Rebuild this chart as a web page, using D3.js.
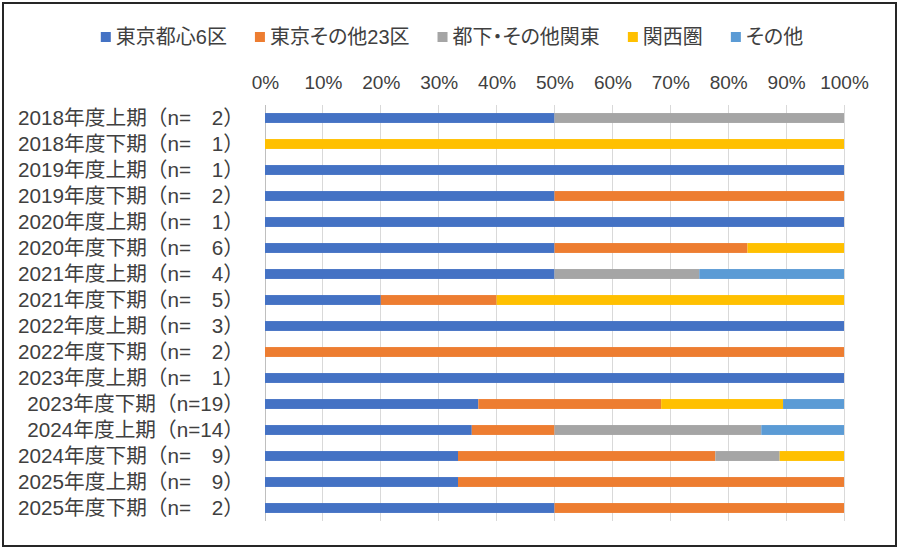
<!DOCTYPE html>
<html>
<head>
<meta charset="utf-8">
<script src="https://cdn.jsdelivr.net/npm/d3@7"></script>
<style>
  body { margin: 0; background: #fff; }
  text { font-family: "Liberation Sans", "Noto Sans CJK JP", sans-serif; fill: #404040; }
  .legend text { font-feature-settings: "palt"; }
</style>
</head>
<body>
<div id="chart"></div>
<script>
// data (counts per area)
const periods = [
  "2018年度上期", "2018年度下期", "2019年度上期", "2019年度下期",
  "2020年度上期", "2020年度下期", "2021年度上期", "2021年度下期",
  "2022年度上期", "2022年度下期", "2023年度上期", "2023年度下期",
  "2024年度上期", "2024年度下期", "2025年度上期", "2025年度下期"
];
const nCounts = [2, 1, 1, 2, 1, 6, 4, 5, 3, 2, 1, 19, 14, 9, 9, 2];

const seriesNames = ["東京都心6区", "東京その他23区", "都下・その他関東", "関西圏", "その他"];
const central6 = [1, 0, 1, 1, 1, 3, 2, 1, 3, 0, 1, 7, 5, 3, 3, 1];
const other23 = [0, 0, 0, 1, 0, 2, 0, 1, 0, 2, 0, 6, 2, 4, 6, 1];
const kanto = [1, 0, 0, 0, 0, 0, 1, 0, 0, 0, 0, 0, 5, 1, 0, 0];
const kansai = [0, 1, 0, 0, 0, 1, 0, 3, 0, 0, 0, 4, 0, 1, 0, 0];
const others = [0, 0, 0, 0, 0, 0, 1, 0, 0, 0, 0, 2, 2, 0, 0, 0];
const seriesColors = ["#4472C4", "#ED7D31", "#A5A5A5", "#FFC000", "#5B9BD5"];
const tickValues = [0, 0.1, 0.2, 0.3, 0.4, 0.5, 0.6, 0.7, 0.8, 0.9, 1];

const W = 900, H = 551;
const margin = { top: 105, right: 56, bottom: 30, left: 265 };

const svg = d3.select("#chart").append("svg")
  .attr("width", W)
  .attr("height", H);

// outer frame
svg.append("rect")
  .attr("x", 3).attr("y", 3)
  .attr("width", W - 7).attr("height", H - 8)
  .attr("fill", "#fff")
  .attr("stroke", "#262626")
  .attr("stroke-width", 2);

const rows = periods.map((p, i) => {
  const r = { label: p, n: nCounts[i] };
  r[seriesNames[0]] = central6[i];
  r[seriesNames[1]] = other23[i];
  r[seriesNames[2]] = kanto[i];
  r[seriesNames[3]] = kansai[i];
  r[seriesNames[4]] = others[i];
  return r;
});

const stack = d3.stack().keys(seriesNames).offset(d3.stackOffsetExpand);
const series = stack(rows);

const color = d3.scaleOrdinal().domain(seriesNames).range(seriesColors);

const x = d3.scaleLinear().domain([0, 1]).range([margin.left, W - margin.right]);
const y = d3.scaleBand().domain(periods)
  .range([margin.top, H - margin.bottom])
  .paddingInner(0.62).paddingOuter(0.31);

// gridlines
svg.append("g")
  .selectAll("line")
  .data(tickValues)
  .join("line")
  .attr("x1", (d) => x(d)).attr("x2", (d) => x(d))
  .attr("y1", margin.top).attr("y2", H - margin.bottom)
  .attr("stroke", (d) => (d === 0 ? "#bfbfbf" : "#d9d9d9"))
  .attr("stroke-width", 1)
  .attr("shape-rendering", "crispEdges");

// top axis labels
const xAxis = svg.append("g")
  .attr("transform", `translate(0, ${margin.top - 16})`)
  .call(d3.axisTop(x).tickValues(tickValues).tickFormat(d3.format(".0%")).tickSize(0).tickPadding(0));
xAxis.select(".domain").remove();
xAxis.selectAll("text")
  .style("font-family", null)
  .style("font-size", "19px")
  .attr("fill", "#404040");

// bars
svg.append("g")
  .selectAll("g")
  .data(series)
  .join("g")
  .attr("fill", (d) => color(d.key))
  .selectAll("rect")
  .data((d) => d)
  .join("rect")
  .attr("x", (d) => x(d[0]))
  .attr("y", (d) => y(d.data.label))
  .attr("width", (d) => x(d[1]) - x(d[0]))
  .attr("height", y.bandwidth());

// category labels
svg.append("g")
  .selectAll("text")
  .data(rows)
  .join("text")
  .attr("x", 244)
  .attr("y", (d) => y(d.label) + y.bandwidth() / 2)
  .attr("dy", "0.36em")
  .attr("text-anchor", "end")
  .style("font-size", "20.7px")
  .text((d) => `${d.label}（n=${d.n < 10 ? "\u3000" + d.n : d.n}）`);

// legend
const legend = svg.append("g").attr("class", "legend");
const gap = 28;
let cursor = 0;
seriesNames.forEach((name, i) => {
  const item = legend.append("g").attr("transform", `translate(${cursor},0)`);
  item.append("rect")
    .attr("x", 0).attr("y", -5)
    .attr("width", 10).attr("height", 10)
    .attr("fill", seriesColors[i]);
  const t = item.append("text")
    .attr("x", 15).attr("y", 0)
    .attr("dy", "0.36em")
    .style("font-size", "20px")
    .text(name);
  cursor += 15 + t.node().getComputedTextLength() + gap;
});
const legendWidth = cursor - gap;
legend.attr("transform", `translate(${452 - legendWidth / 2}, 37)`);
</script>
</body>
</html>
